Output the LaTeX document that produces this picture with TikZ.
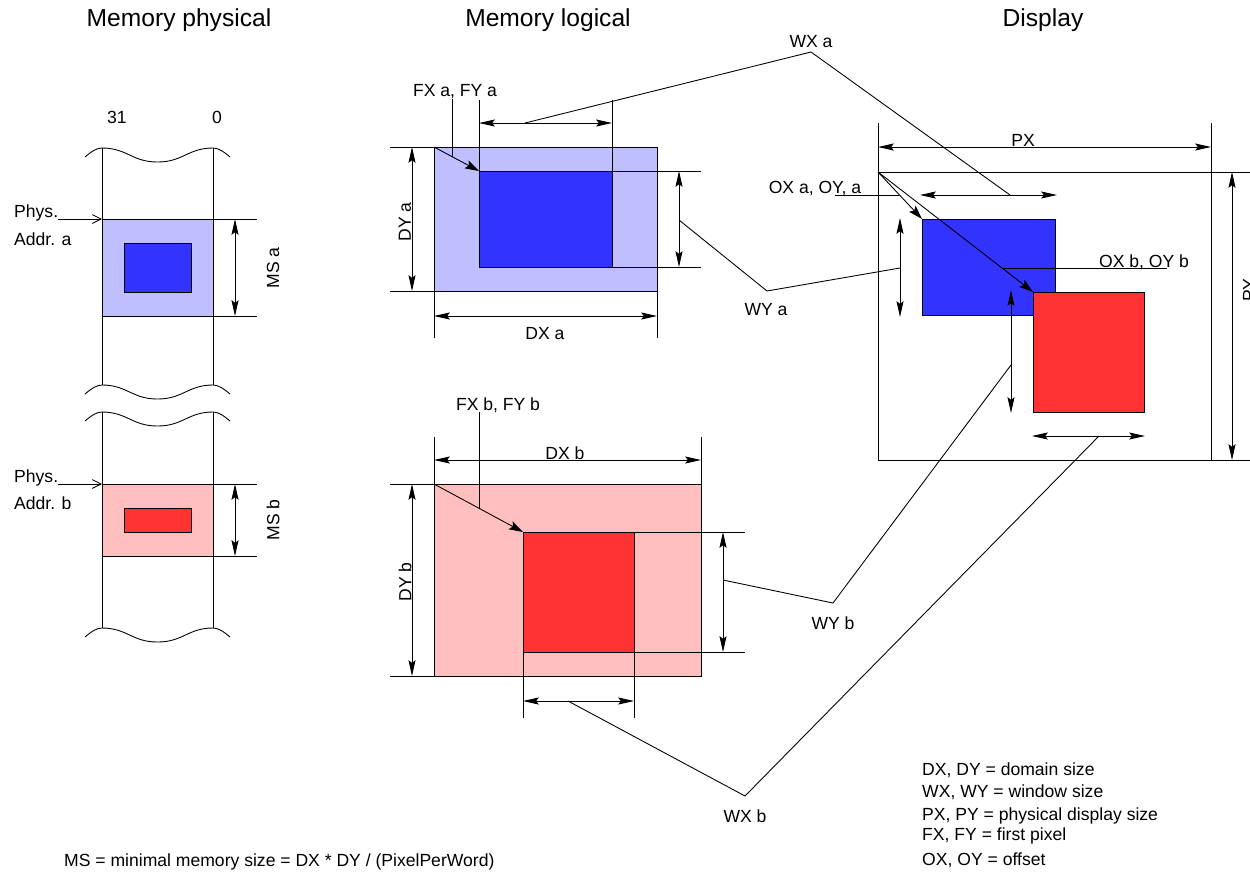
\documentclass[tikz,border=0pt]{standalone}
\usepackage{fontspec}
\setmainfont{Liberation Sans}
\usepackage{xcolor}
\usetikzlibrary{arrows.meta}
\definecolor{lblue}{RGB}{191,191,255}
\definecolor{dblue}{RGB}{51,51,255}
\definecolor{lred}{RGB}{255,191,191}
\definecolor{dred}{RGB}{255,51,51}
\tikzset{
  brk/.pic={\draw (-17,9) .. controls (-10,3) and (-5,0) .. (0,0) .. controls (25,0) and (30,14) .. (55.5,14) .. controls (81,14) and (86,0) .. (111,0) .. controls (116,0) and (121,3) .. (128,9);},
  dim/.style={{Stealth[length=9pt,width=4pt,inset=1.5pt]}-{Stealth[length=9pt,width=4pt,inset=1.5pt]}},
  ptr/.style={-{Stealth[length=8pt,width=5pt,inset=1.5pt]}},
  addr/.style={-{Straight Barb[length=5pt,width=5pt]}},
  txt/.style={font=\fontsize{10}{12}\selectfont,inner sep=1pt},
  ttl/.style={font=\fontsize{14}{16}\selectfont}
}
\begin{document}
\begin{tikzpicture}[x=0.02cm,y=-0.02cm,line width=0.5pt,every node/.style={txt}]
\useasboundingbox (0,0) rectangle (1250,877);
\node[ttl] (tphys) at (179,20) {Memory physical};
\node[ttl] (tlog) at (548,20) {Memory logical};
\node[ttl] (tdisp) at (1043,20) {Display};
% physical memory
\node (bhi) at (117,117) {31};
\node (blo) at (217,117) {0};
\fill[lblue] (102,219) rectangle (213,316);
\fill[lred] (102,484) rectangle (213,556);
\draw[fill=dblue] (124,243) rectangle (191,292);
\draw[fill=dred] (124,508) rectangle (191,532);
\foreach \y/\e in {148/385,412/628}{
  \draw (102,\y) -- (102,\e) (213,\y) -- (213,\e);
  \pic at (102,\y) {brk};
  \pic at (102,\e) {brk};
}
\foreach \y in {219,316,484,556} \draw (102,\y) -- (257,\y);
\draw[dim] (235,219) -- (235,316);
\draw[dim] (235,484) -- (235,556);
\node[rotate=90] (msa) at (273,268) {MS a};
\node[rotate=90] (msb) at (273,520) {MS b};
\node[anchor=west] (pha) at (12,213) {Phys.};
\node[anchor=west] (ada) at (12,239) {Addr. a};
\node[anchor=west] (phb) at (12,478) {Phys.};
\node[anchor=west] (adb) at (12,503) {Addr. b};
\coordinate (pas) at (58,219);
\coordinate (pae) at (102,219);
\coordinate (pbs) at (58,484);
\coordinate (pbe) at (102,484);
\draw[addr] (pas) -- (pae);
\draw[addr] (pbs) -- (pbe);
% logical memory a
\draw[fill=lblue] (434,147) rectangle (657,291);
\draw[fill=dblue] (479,171) rectangle (612,267);
\draw (390,147) -- (434,147) (390,291) -- (434,291) (434,291) -- (434,338) (657,291) -- (657,338)
  (479,100) -- (479,171) (612,100) -- (612,171) (612,171) -- (701,171) (612,267) -- (701,267);
\draw[dim] (412,147) -- (412,291);
\draw[dim] (434,316) -- (657,316);
\draw[dim] (479,123) -- (612,123);
\draw[dim] (679,171) -- (679,267);
\node[rotate=90] (dya) at (405,222) {DY a};
\node (dxa) at (545,334) {DX a};
\node (fxa) at (455,92) {FX a, FY a};
\coordinate (la0) at (434,147);
\coordinate (la1) at (479,171);
\draw[ptr] (la0) -- (la1);
\draw (452,99) -- (452,157);
% logical memory b
\draw[fill=lred] (434,484) rectangle (701,676);
\draw[fill=dred] (523,532) rectangle (634,652);
\draw (390,484) -- (434,484) (390,676) -- (434,676) (434,437) -- (434,484) (701,437) -- (701,484)
  (634,532) -- (745,532) (634,652) -- (745,652) (523,652) -- (523,718) (634,652) -- (634,718);
\draw[dim] (434,460) -- (701,460);
\draw[dim] (412,484) -- (412,676);
\draw[dim] (723,532) -- (723,652);
\draw[dim] (523,701) -- (634,701);
\node (dxb) at (565,453) {DX b};
\node[rotate=90] (dyb) at (405,582) {DY b};
\node (fxb) at (498,405) {FX b, FY b};
\coordinate (lb0) at (434,484);
\coordinate (lb1) at (523,532);
\draw[ptr] (lb0) -- (lb1);
\draw (479,412) -- (479,508);
% display
\draw (878,172) rectangle (1211,460);
\draw (878,123) -- (878,172) (1211,123) -- (1211,172) (1211,172) -- (1250,172) (1211,460) -- (1250,460);
\draw[dim] (878,147) -- (1211,147);
\draw[dim] (1232,172) -- (1232,460);
\node (px) at (1023,140) {PX};
\node[rotate=90] (py) at (1249,290) {PY};
\draw[fill=dblue] (922,219) rectangle (1055,315);
\draw[fill=dred] (1033,292) rectangle (1144,412);
\draw[dim] (920,195) -- (1057,195);
\draw[dim] (900,218) -- (900,317);
\draw[dim] (1011,290) -- (1011,413);
\draw[dim] (1032,436) -- (1145,436);
\coordinate (dorg) at (878,172);
\coordinate (oa) at (922,219);
\coordinate (ob) at (1033,292);
\draw[ptr] (dorg) -- (oa);
\draw[ptr] (dorg) -- (ob);
\node (oxa) at (815,188) {OX a, OY, a};
\node (oxb) at (1144,262) {OX b, OY b};
\draw (835,195) -- (899,195);
\draw (1002,268) -- (1167,268);
% leaders
\coordinate (wxa) at (811,52);
\coordinate (wya) at (767,291);
\coordinate (wyb) at (833,603);
\coordinate (wxb) at (745,796);
\node (lwxa) at (811,42) {WX a};
\node (lwya) at (766,310) {WY a};
\node (lwyb) at (833,623) {WY b};
\node (lwxb) at (745,816) {WX b};
\draw (525,123) -- (wxa) -- (1010,195);
\draw (679,220) -- (wya) -- (900,268);
\draw (723,580) -- (wyb) -- (1011,365);
\draw (568,701) -- (wxb) -- (1099,436);
% legend
\node[anchor=west] (lg1) at (920,770) {DX, DY = domain size};
\node[anchor=west] (lg2) at (920,792) {WX, WY = window size};
\node[anchor=west] (lg3) at (920,816) {PX, PY = physical display size};
\node[anchor=west] (lg4) at (920,836) {FX, FY = first pixel};
\node[anchor=west] (lg5) at (920,860) {OX, OY = offset};
\node[anchor=west] (ms) at (62,862) {MS = minimal memory size = DX * DY / (PixelPerWord)};
\end{tikzpicture}
\end{document}
